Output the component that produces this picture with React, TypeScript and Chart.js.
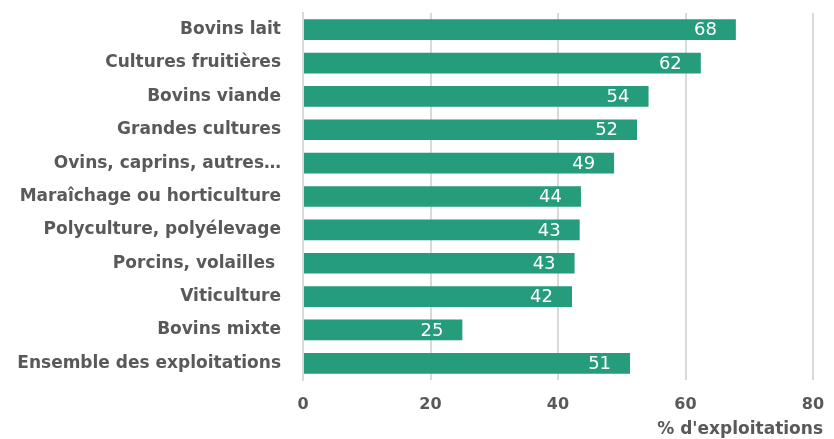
import React, { useEffect, useRef } from "react";
import { Chart, registerables } from "chart.js";

Chart.register(...registerables);

const categories = [
  "Bovins lait",
  "Cultures fruitières",
  "Bovins viande",
  "Grandes cultures",
  "Ovins, caprins, autres…",
  "Maraîchage ou horticulture",
  "Polyculture, polyélevage",
  "Porcins, volailles ",
  "Viticulture",
  "Bovins mixte",
  "Ensemble des exploitations",
];
const values = [67.9, 62.4, 54.2, 52.4, 48.8, 43.6, 43.4, 42.6, 42.2, 25.0, 51.3];
const xTicks = [0, 20, 40, 60, 80];
const axisTitle = "% d'exploitations";

const FONT = "'DejaVu Sans', sans-serif";
const TEXT = "#595959";
const BAR = "#259C7B";
const GRID = "#D9D9D9";

export default function App() {
  const ref = useRef<HTMLCanvasElement>(null);
  useEffect(() => {
    const labelPlugin = {
      id: "labels",
      afterDatasetsDraw(chart: any) {
        const ctx = chart.ctx;
        const meta = chart.getDatasetMeta(0);
        ctx.save();
        ctx.font = `18px ${FONT}`;
        ctx.fillStyle = "#FFFFFF";
        ctx.textAlign = "right";
        ctx.textBaseline = "middle";
        meta.data.forEach((el: any, i: number) => {
          ctx.fillText(String(Math.round(values[i])), el.x - 19, el.y + 1);
        });
        ctx.restore();
      },
      afterDraw(chart: any) {
        const ctx = chart.ctx;
        ctx.save();
        ctx.font = `bold 17px ${FONT}`;
        ctx.fillStyle = TEXT;
        ctx.textAlign = "right";
        ctx.textBaseline = "middle";
        ctx.fillText(axisTitle, chart.chartArea.right + 10, 430);
        ctx.restore();
      },
    };
    const chart = new Chart(ref.current!, {
      type: "bar",
      data: {
        labels: categories,
        datasets: [
          {
            data: values,
            backgroundColor: BAR,
            barPercentage: 0.62,
            categoryPercentage: 1,
          },
        ],
      },
      options: {
        indexAxis: "y",
        animation: false,
        responsive: false,
        layout: { padding: { top: 13, right: 21, bottom: 0, left: 0 } },
        plugins: { legend: { display: false }, tooltip: { enabled: false } },
        scales: {
          x: {
            min: 0,
            max: 80,
            afterBuildTicks(scale: any) {
              scale.ticks = xTicks.map((v) => ({ value: v }));
            },
            afterFit(scale: any) {
              scale.height = 59;
              scale.paddingLeft = 0;
              scale.paddingRight = 0;
            },
            grid: { color: GRID, lineWidth: 2, drawTicks: false },
            border: { display: false },
            ticks: {
              padding: 15,
              color: TEXT,
              font: { family: FONT, size: 16, weight: "bold" },
            },
          },
          y: {
            afterFit(scale: any) {
              scale.width = 303;
              scale.paddingTop = 0;
              scale.paddingBottom = 0;
            },
            grid: { display: false, drawTicks: false },
            border: { display: true, color: GRID, width: 2 },
            ticks: {
              padding: 22,
              color: TEXT,
              font: { family: FONT, size: 17, weight: "bold" },
            },
          },
        },
      },
      plugins: [labelPlugin],
    });
    return () => chart.destroy();
  }, []);
  return (
    <div style={{ position: "fixed", left: 0, top: 0, width: 834, height: 439, background: "#fff" }}>
      <canvas ref={ref} width={834} height={439} />
    </div>
  );
}
